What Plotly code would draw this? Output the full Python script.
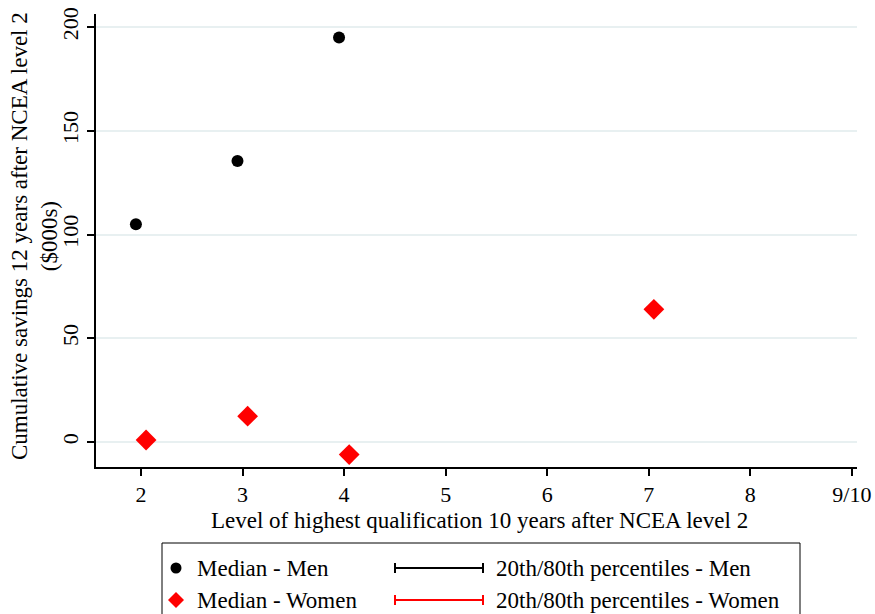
import plotly.graph_objects as go

# Data
men_x = [1.95, 2.95, 3.95]
men_median = [105, 135.5, 195]
women_x = [2.05, 3.05, 4.05, 7.05]
women_median = [1, 12.5, -6, 64]
x_tickvals = [2, 3, 4, 5, 6, 7, 8, 9]
x_ticktext = ["2", "3", "4", "5", "6", "7", "8", "9/10"]
y_tickvals = [0, 50, 100, 150, 200]

W, H = 875, 614
L, R, T, B = 96, 18, 14, 147
PW, PH = W - L - R, H - T - B

def px(x):
    return (x - L) / PW

def py(y):
    return (H - B - y) / PH

FONT = "Liberation Serif, Times New Roman, serif"

fig = go.Figure()
fig.add_trace(go.Scatter(x=men_x, y=men_median, mode="markers", name="Median - Men",
                         marker=dict(symbol="circle", size=12, color="black"), showlegend=False))
fig.add_trace(go.Scatter(x=women_x, y=women_median, mode="markers", name="Median - Women",
                         marker=dict(symbol="diamond", size=16, color="#ff0000"), showlegend=False))

shapes = []
annotations = []
# legend box
shapes.append(dict(type="rect", xref="paper", yref="paper", x0=px(162), x1=px(800), y0=py(543), y1=py(640),
                   line=dict(color="black", width=1), fillcolor="white", layer="above"))
# legend markers
shapes.append(dict(type="circle", xref="paper", yref="paper", x0=px(170.5), x1=px(181.5), y0=py(562.5), y1=py(573.5),
                   fillcolor="black", line=dict(width=0), layer="above"))
cx, cy, r = 176, 600, 8
shapes.append(dict(type="path", xref="paper", yref="paper",
                   path=f"M {px(cx)} {py(cy - r)} L {px(cx + r)} {py(cy)} L {px(cx)} {py(cy + r)} L {px(cx - r)} {py(cy)} Z",
                   fillcolor="#ff0000", line=dict(width=0), layer="above"))
for yy, col in [(568, "black"), (600, "#ff0000")]:
    shapes.append(dict(type="line", xref="paper", yref="paper", x0=px(395), x1=px(483), y0=py(yy), y1=py(yy),
                       line=dict(color=col, width=2), layer="above"))
    for xx in (395, 483):
        shapes.append(dict(type="line", xref="paper", yref="paper", x0=px(xx), x1=px(xx), y0=py(yy - 5), y1=py(yy + 5),
                           line=dict(color=col, width=2), layer="above"))

for txt, x0, y0 in [("Median - Men", 195, 568), ("Median - Women", 195, 600),
                    ("20th/80th percentiles - Men", 494, 568), ("20th/80th percentiles - Women", 494, 600)]:
    annotations.append(dict(text=txt, xref="paper", yref="paper", x=px(x0), y=py(y0), xanchor="left", yanchor="middle",
                            showarrow=False, font=dict(family=FONT, size=23, color="black")))

# y axis title
annotations.append(dict(text="Cumulative savings 12 years after NCEA level 2<br>($000s)", xref="paper", yref="paper",
                        x=px(35), y=py(236), xanchor="center", yanchor="middle", textangle=-90, showarrow=False,
                        font=dict(family=FONT, size=23, color="black")))
# x axis title
annotations.append(dict(text="Level of highest qualification 10 years after NCEA level 2", xref="paper", yref="paper",
                        x=px(480), y=py(520), xanchor="center", yanchor="middle", showarrow=False,
                        font=dict(family=FONT, size=23, color="black")))

fig.update_layout(
    width=W, height=H,
    margin=dict(l=L, r=R, t=T, b=B, autoexpand=False),
    paper_bgcolor="white", plot_bgcolor="white",
    font=dict(family=FONT, size=22, color="black"),
    shapes=shapes, annotations=annotations,
    showlegend=False,
)
fig.update_xaxes(range=[1.557, 9.05], tickvals=x_tickvals, ticktext=x_ticktext, automargin=False,
                 showgrid=False, zeroline=False, showline=True, linecolor="black", linewidth=1.5,
                 ticks="outside", ticklen=7, tickcolor="black", tickwidth=1.5,
                 tickfont=dict(family=FONT, size=22))
fig.update_yaxes(range=[-12, 206.3], tickvals=y_tickvals, tickangle=-90, automargin=False,
                 showgrid=True, gridcolor="#e8f0f1", gridwidth=2, zeroline=False,
                 showline=True, linecolor="black", linewidth=1.5,
                 ticks="outside", ticklen=7, tickcolor="black", tickwidth=1.5,
                 tickfont=dict(family=FONT, size=22))

fig.write_html("out.html", config={"displayModeBar": False},
               post_script="document.body.style.margin='0';document.body.style.overflow='hidden';")
